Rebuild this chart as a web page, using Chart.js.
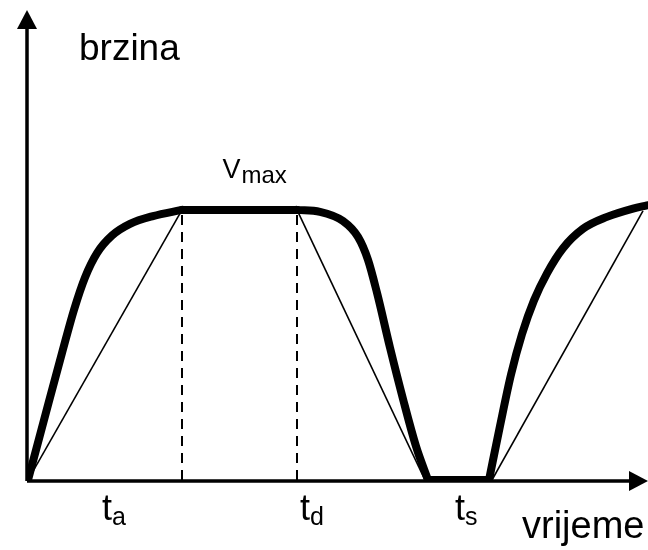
<!DOCTYPE html>
<html lang="hr">
<head>
    <meta charset="UTF-8">
    <title>brzina - vrijeme</title>
    <script src="https://cdn.jsdelivr.net/npm/chart.js"></script>
    <style>
        html, body { margin: 0; padding: 0; background: #fff; }
        #wrap { width: 648px; height: 550px; }
    </style>
</head>
<body>
    <div id="wrap"><canvas id="brzinaChart"></canvas></div>

    <script>
        // Stvarna brzina (debela krivulja), po dijelovima
        const riseX = [0, 0.18, 0.34, 0.46, 0.57, 0.69, 0.84, 1.02, 1.25, 1.54];
        const riseY = [0, 0.25, 0.47, 0.63, 0.75, 0.84, 0.905, 0.948, 0.977, 1];
        const cruiseX = [1.54, 2.69];
        const cruiseY = [1, 1];
        const fallX = [2.69, 2.92, 3.15, 3.30, 3.40, 3.49, 3.62, 3.75, 3.88, 4.00];
        const fallY = [1, 0.993, 0.959, 0.9, 0.815, 0.693, 0.49, 0.30, 0.125, 0];
        const stopX = [4.00, 4.61];
        const stopY = [0, 0];
        const rise2X = [4.61, 4.72, 4.83, 4.94, 5.06, 5.19, 5.35, 5.55, 5.79, 6.05, 6.19];
        const rise2Y = [0, 0.2, 0.39, 0.54, 0.665, 0.765, 0.858, 0.93, 0.974, 1.005, 1.017];

        // Idealizirani pravci (tanke linije)
        const rampStartX = [0, 2.69, 4.64];
        const rampEndX = [1.54, 3.97, 6.15];
        const rampStartY = [0, 1, 0];
        const rampEndY = [1, 0, 0.996];

        // Iscrtkane okomice kod t_a i t_d
        const markerX = [1.54, 2.69];
        const vMax = 1;

        // Oznake na osi vremena
        const tickSubs = ['a', 'd', 's'];
        const tickX = [0.74, 2.72, 4.27];

        const toPoints = (xs, ys) => xs.map((x, i) => ({ x: x, y: ys[i] }));

        const datasets = [];
        [[riseX, riseY], [cruiseX, cruiseY], [fallX, fallY], [stopX, stopY], [rise2X, rise2Y]]
            .forEach((seg, i) => {
                datasets.push({
                    label: 'brzina' + i,
                    data: toPoints(seg[0], seg[1]),
                    borderColor: '#000',
                    borderWidth: 8,
                    pointRadius: 0,
                    cubicInterpolationMode: 'monotone',
                    borderJoinStyle: 'round',
                    borderCapStyle: 'round'
                });
            });

        rampStartX.forEach((x0, i) => {
            datasets.push({
                label: 'ramp' + i,
                data: [{ x: x0, y: rampStartY[i] }, { x: rampEndX[i], y: rampEndY[i] }],
                borderColor: '#000',
                borderWidth: 1.6,
                pointRadius: 0,
                tension: 0
            });
        });

        markerX.forEach((x, i) => {
            datasets.push({
                label: 'marker' + i,
                data: [{ x: x, y: 0 }, { x: x, y: vMax }],
                borderColor: '#000',
                borderWidth: 2,
                borderDash: [10, 7],
                pointRadius: 0,
                tension: 0
            });
        });

        // Osi sa strelicama i tekstovi
        const axesPlugin = {
            id: 'axesPlugin',
            beforeDatasetsDraw(chart) {
                const ctx = chart.ctx;
                const xs = chart.scales.x, ys = chart.scales.y;
                const x0 = xs.getPixelForValue(0) - 1;
                const y0 = ys.getPixelForValue(0) + 1;
                const top = chart.chartArea.top;
                const right = chart.chartArea.right;
                ctx.save();
                ctx.strokeStyle = '#000';
                ctx.fillStyle = '#000';
                ctx.lineWidth = 3.5;
                ctx.beginPath();
                ctx.moveTo(x0, y0);
                ctx.lineTo(x0, top + 14);
                ctx.moveTo(x0, y0);
                ctx.lineTo(right - 14, y0);
                ctx.stroke();
                // strelica gore
                ctx.beginPath();
                ctx.moveTo(x0, top);
                ctx.lineTo(x0 - 10, top + 19);
                ctx.lineTo(x0 + 10, top + 19);
                ctx.closePath();
                ctx.fill();
                // strelica desno
                ctx.beginPath();
                ctx.moveTo(right, y0);
                ctx.lineTo(right - 19, y0 - 10);
                ctx.lineTo(right - 19, y0 + 10);
                ctx.closePath();
                ctx.fill();
                ctx.restore();
            },
            afterDatasetsDraw(chart) {
                const ctx = chart.ctx;
                const xs = chart.scales.x, ys = chart.scales.y;
                ctx.save();
                ctx.fillStyle = '#000';
                ctx.textBaseline = 'alphabetic';
                ctx.textAlign = 'left';
                const font = "'Liberation Sans', Arial, sans-serif";

                ctx.font = '37px ' + font;
                ctx.fillText('brzina', 79, 60);
                ctx.font = '38px ' + font;
                ctx.fillText('vrijeme', 522, 538);

                // V_max
                const vx = xs.getPixelForValue((markerX[0] + markerX[1]) / 2) - 17;
                const vy = ys.getPixelForValue(vMax) - 32;
                ctx.font = '27px ' + font;
                ctx.fillText('V', vx, vy);
                const vw = ctx.measureText('V').width;
                ctx.font = '24px ' + font;
                ctx.fillText('max', vx + vw + 1, vy + 5);

                // t_a, t_d, t_s
                const ty = ys.getPixelForValue(0) + 40;
                tickSubs.forEach((s, i) => {
                    const px = xs.getPixelForValue(tickX[i]);
                    ctx.font = '36px ' + font;
                    ctx.fillText('t', px, ty);
                    const tw = ctx.measureText('t').width;
                    ctx.font = '25px ' + font;
                    ctx.fillText(s, px + tw, ty + 5);
                });
                ctx.restore();
            }
        };

        new Chart(document.getElementById('brzinaChart'), {
            type: 'line',
            data: { datasets: datasets },
            options: {
                responsive: true,
                maintainAspectRatio: false,
                animation: false,
                layout: { padding: { left: 28, right: 0, top: 10, bottom: 70 } },
                plugins: {
                    legend: { display: false },
                    tooltip: { enabled: false }
                },
                scales: {
                    x: { type: 'linear', min: 0, max: 6.2, display: false },
                    y: { type: 'linear', min: 0, max: 1.74, display: false }
                }
            },
            plugins: [axesPlugin]
        });
    </script>
</body>
</html>
